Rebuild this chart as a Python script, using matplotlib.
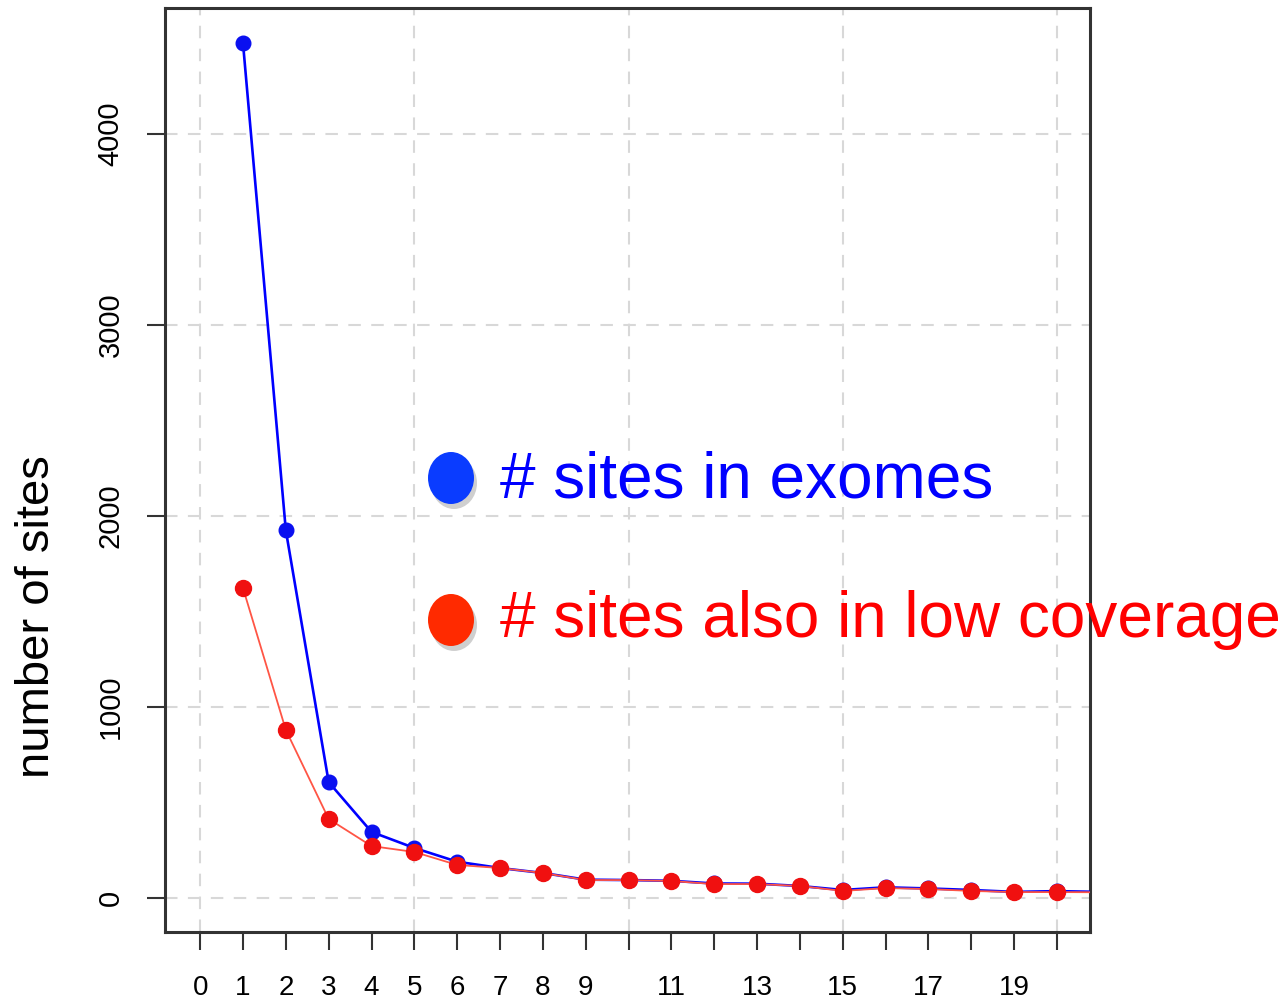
import matplotlib
matplotlib.use("Agg")
import matplotlib.pyplot as plt
from matplotlib.patches import Ellipse

# Data
depth = [1, 2, 3, 4, 5, 6, 7, 8, 9, 10, 11, 12, 13, 14, 15, 16, 17, 18, 19, 20, 21]
sites_exome = [4477, 1925, 607, 346, 262, 190, 157, 131, 96, 94, 90, 76, 75, 63, 42, 56, 50, 42, 32, 36, 32]
sites_lowcov = [1623, 880, 414, 272, 241, 173, 157, 131, 94, 94, 89, 73, 73, 63, 37, 52, 47, 37, 31, 31, 30]
x_ticks = list(range(0, 21))
x_labels = ["0", "1", "2", "3", "4", "5", "6", "7", "8", "9", "",
            "11", "", "13", "", "15", "", "17", "", "19", ""]
y_ticks = [0, 1000, 2000, 3000, 4000]
legend_labels = ["# sites in exomes", "# sites also in low coverage"]

W, H = 1287, 1002
plt.rcParams["font.family"] = ["Liberation Sans", "DejaVu Sans"]

fig = plt.figure(figsize=(W / 100, H / 100), dpi=100)
ax = fig.add_axes([165 / W, 1 - 932 / H, (1090 - 165) / W, (932 - 8) / H])

# grid (dashed light gray)
for gx in [0, 5, 10, 15, 20]:
    ax.axvline(gx, color="#d8d8d8", lw=1.5, ls=(0, (6, 5)), zorder=0)
for gy in y_ticks:
    ax.axhline(gy, color="#d8d8d8", lw=1.5, ls=(0, (6, 5)), zorder=0)

# series
ax.plot(depth, sites_exome, color="#0000ff", lw=1.9, marker="o", ms=10.5,
        mfc="#0a10f0", mec="#0a10f0", zorder=3)
ax.plot(depth, sites_lowcov, color="#ff5545", lw=1.3, marker="o", ms=11.5,
        mfc="#f01010", mec="#f01010", zorder=4)

ax.set_xlim(-0.82, 20.77)
ax.set_ylim(-178, 4660)

ax.set_xticks(x_ticks)
ax.set_xticklabels(x_labels, fontsize=20)
ax.set_yticks(y_ticks)
ax.set_yticklabels([str(v) for v in y_ticks], fontsize=21, rotation=90, va="center")
ax.tick_params(axis="x", length=13, width=1.5, color="#333333", pad=18)
ax.tick_params(axis="y", length=13, width=1.5, color="#333333", pad=16)

for s in ax.spines.values():
    s.set_linewidth(2.2)
    s.set_color("#333333")

fig.text(37 / W, 1 - 617 / H, "number of sites", rotation=90, fontsize=34,
         ha="center", va="center")

# hand-made legend with shaded dots
dot_colors = ["#0a3cff", "#ff2a00"]
text_colors = ["#0000ff", "#ff0000"]
dot_y = [478, 620]
text_base = [497, 637]
for lab, dc, tc, dy, ty in zip(legend_labels, dot_colors, text_colors, dot_y, text_base):
    shadow = Ellipse(((451 + 3) / W, 1 - (dy + 5) / H), 46 / W, 52 / H,
                     transform=fig.transFigure, color="#777777", alpha=0.35, lw=0)
    fig.add_artist(shadow)
    dot = Ellipse((451 / W, 1 - dy / H), 46 / W, 52 / H,
                  transform=fig.transFigure, color=dc, lw=0)
    fig.add_artist(dot)
    fig.text(500 / W, 1 - ty / H, lab, color=tc, fontsize=46, ha="left", va="baseline")

fig.savefig("out.png", dpi=100)
